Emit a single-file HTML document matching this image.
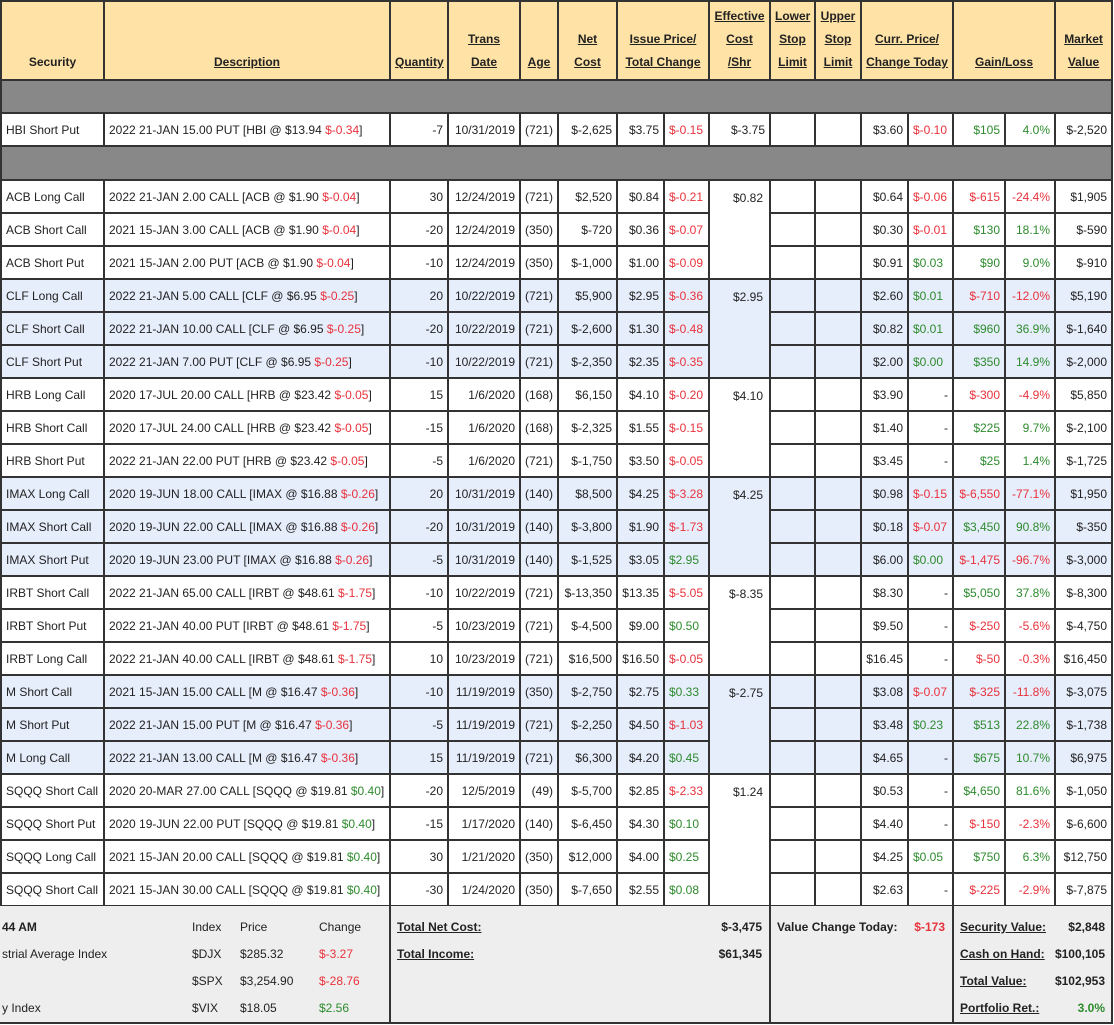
<!DOCTYPE html>
<html><head><meta charset="utf-8"><style>
body{margin:0;background:#fff;font-family:"Liberation Sans",Arial,sans-serif;font-size:12px;color:#222;}
table{position:absolute;left:0;top:0;border-collapse:collapse;table-layout:fixed;width:1113px;}
td{border:2px solid #333;padding:0 4px;white-space:nowrap;overflow:hidden;text-align:right;height:31px;}
td.l{text-align:left}
tr.h td{background:#ffe3a6;font-weight:bold;text-align:center;vertical-align:bottom;padding-bottom:5px;line-height:23px;height:72px}
tr.g td{background:#888;height:31px}
tr.bl td{background:#e6edfb}
td.e{vertical-align:top;padding-top:10px;padding-right:6px}
.r{color:#e8323c}.gr{color:#2e8b2e}
#ft{position:absolute;left:0;top:906px;width:1113px;height:116px;background:#eee;border-bottom:2px solid #333;}
#ft div{position:absolute;}
.vl{width:2px;background:#333;top:0;height:116px}
.b{font-weight:bold}
</style></head><body>
<table>
<colgroup><col style="width:103px"><col style="width:286px"><col style="width:58px"><col style="width:72px"><col style="width:38px"><col style="width:59px"><col style="width:47px"><col style="width:45px"><col style="width:61px"><col style="width:45px"><col style="width:46px"><col style="width:47px"><col style="width:45px"><col style="width:52px"><col style="width:50px"><col style="width:57px"></colgroup>
<tr class="h"><td>Security</td><td><u>Description</u></td><td><u>Quantity</u></td><td><u>Trans</u><br><u>Date</u></td><td><u>Age</u></td><td><u>Net</u><br><u>Cost</u></td><td colspan="2"><u>Issue Price/</u><br><u>Total Change</u></td><td><u>Effective</u><br><u>Cost</u><br><u>/Shr</u></td><td><u>Lower</u><br><u>Stop</u><br><u>Limit</u></td><td><u>Upper</u><br><u>Stop</u><br><u>Limit</u></td><td colspan="2"><u>Curr. Price/</u><br><u>Change Today</u></td><td colspan="2"><u>Gain/Loss</u></td><td><u>Market</u><br><u>Value</u></td></tr>
<tr class="g"><td colspan="16"></td></tr>
<tr><td class="l">HBI Short Put</td><td class="l">2022 21-JAN 15.00 PUT [HBI @ $13.94 <span class="r">$-0.34</span>]</td><td>-7</td><td>10/31/2019</td><td>(721)</td><td>$-2,625</td><td>$3.75</td><td class="r l">$-0.15</td><td>$-3.75</td><td></td><td></td><td>$3.60</td><td class="r l">$-0.10</td><td class="gr">$105</td><td class="gr">4.0%</td><td>$-2,520</td></tr>
<tr class="g"><td colspan="16" style="height:32px"></td></tr>

<tr><td class="l">ACB Long Call</td><td class="l">2022 21-JAN 2.00 CALL [ACB @ $1.90 <span class="r">$-0.04</span>]</td><td>30</td><td>12/24/2019</td><td>(721)</td><td>$2,520</td><td>$0.84</td><td class="r l">$-0.21</td><td class="e" rowspan="3">$0.82</td><td></td><td></td><td>$0.64</td><td class="r l">$-0.06</td><td class="r">$-615</td><td class="r">-24.4%</td><td>$1,905</td></tr>
<tr><td class="l">ACB Short Call</td><td class="l">2021 15-JAN 3.00 CALL [ACB @ $1.90 <span class="r">$-0.04</span>]</td><td>-20</td><td>12/24/2019</td><td>(350)</td><td>$-720</td><td>$0.36</td><td class="r l">$-0.07</td><td></td><td></td><td>$0.30</td><td class="r l">$-0.01</td><td class="gr">$130</td><td class="gr">18.1%</td><td>$-590</td></tr>
<tr><td class="l">ACB Short Put</td><td class="l">2021 15-JAN 2.00 PUT [ACB @ $1.90 <span class="r">$-0.04</span>]</td><td>-10</td><td>12/24/2019</td><td>(350)</td><td>$-1,000</td><td>$1.00</td><td class="r l">$-0.09</td><td></td><td></td><td>$0.91</td><td class="gr l">$0.03</td><td class="gr">$90</td><td class="gr">9.0%</td><td>$-910</td></tr>

<tr class="bl"><td class="l">CLF Long Call</td><td class="l">2022 21-JAN 5.00 CALL [CLF @ $6.95 <span class="r">$-0.25</span>]</td><td>20</td><td>10/22/2019</td><td>(721)</td><td>$5,900</td><td>$2.95</td><td class="r l">$-0.36</td><td class="e" rowspan="3">$2.95</td><td></td><td></td><td>$2.60</td><td class="gr l">$0.01</td><td class="r">$-710</td><td class="r">-12.0%</td><td>$5,190</td></tr>
<tr class="bl"><td class="l">CLF Short Call</td><td class="l">2022 21-JAN 10.00 CALL [CLF @ $6.95 <span class="r">$-0.25</span>]</td><td>-20</td><td>10/22/2019</td><td>(721)</td><td>$-2,600</td><td>$1.30</td><td class="r l">$-0.48</td><td></td><td></td><td>$0.82</td><td class="gr l">$0.01</td><td class="gr">$960</td><td class="gr">36.9%</td><td>$-1,640</td></tr>
<tr class="bl"><td class="l">CLF Short Put</td><td class="l">2022 21-JAN 7.00 PUT [CLF @ $6.95 <span class="r">$-0.25</span>]</td><td>-10</td><td>10/22/2019</td><td>(721)</td><td>$-2,350</td><td>$2.35</td><td class="r l">$-0.35</td><td></td><td></td><td>$2.00</td><td class="gr l">$0.00</td><td class="gr">$350</td><td class="gr">14.9%</td><td>$-2,000</td></tr>

<tr><td class="l">HRB Long Call</td><td class="l">2020 17-JUL 20.00 CALL [HRB @ $23.42 <span class="r">$-0.05</span>]</td><td>15</td><td>1/6/2020</td><td>(168)</td><td>$6,150</td><td>$4.10</td><td class="r l">$-0.20</td><td class="e" rowspan="3">$4.10</td><td></td><td></td><td>$3.90</td><td>-</td><td class="r">$-300</td><td class="r">-4.9%</td><td>$5,850</td></tr>
<tr><td class="l">HRB Short Call</td><td class="l">2020 17-JUL 24.00 CALL [HRB @ $23.42 <span class="r">$-0.05</span>]</td><td>-15</td><td>1/6/2020</td><td>(168)</td><td>$-2,325</td><td>$1.55</td><td class="r l">$-0.15</td><td></td><td></td><td>$1.40</td><td>-</td><td class="gr">$225</td><td class="gr">9.7%</td><td>$-2,100</td></tr>
<tr><td class="l">HRB Short Put</td><td class="l">2022 21-JAN 22.00 PUT [HRB @ $23.42 <span class="r">$-0.05</span>]</td><td>-5</td><td>1/6/2020</td><td>(721)</td><td>$-1,750</td><td>$3.50</td><td class="r l">$-0.05</td><td></td><td></td><td>$3.45</td><td>-</td><td class="gr">$25</td><td class="gr">1.4%</td><td>$-1,725</td></tr>

<tr class="bl"><td class="l">IMAX Long Call</td><td class="l">2020 19-JUN 18.00 CALL [IMAX @ $16.88 <span class="r">$-0.26</span>]</td><td>20</td><td>10/31/2019</td><td>(140)</td><td>$8,500</td><td>$4.25</td><td class="r l">$-3.28</td><td class="e" rowspan="3">$4.25</td><td></td><td></td><td>$0.98</td><td class="r l">$-0.15</td><td class="r">$-6,550</td><td class="r">-77.1%</td><td>$1,950</td></tr>
<tr class="bl"><td class="l">IMAX Short Call</td><td class="l">2020 19-JUN 22.00 CALL [IMAX @ $16.88 <span class="r">$-0.26</span>]</td><td>-20</td><td>10/31/2019</td><td>(140)</td><td>$-3,800</td><td>$1.90</td><td class="r l">$-1.73</td><td></td><td></td><td>$0.18</td><td class="r l">$-0.07</td><td class="gr">$3,450</td><td class="gr">90.8%</td><td>$-350</td></tr>
<tr class="bl"><td class="l">IMAX Short Put</td><td class="l">2020 19-JUN 23.00 PUT [IMAX @ $16.88 <span class="r">$-0.26</span>]</td><td>-5</td><td>10/31/2019</td><td>(140)</td><td>$-1,525</td><td>$3.05</td><td class="gr l">$2.95</td><td></td><td></td><td>$6.00</td><td class="gr l">$0.00</td><td class="r">$-1,475</td><td class="r">-96.7%</td><td>$-3,000</td></tr>

<tr><td class="l">IRBT Short Call</td><td class="l">2022 21-JAN 65.00 CALL [IRBT @ $48.61 <span class="r">$-1.75</span>]</td><td>-10</td><td>10/22/2019</td><td>(721)</td><td>$-13,350</td><td>$13.35</td><td class="r l">$-5.05</td><td class="e" rowspan="3">$-8.35</td><td></td><td></td><td>$8.30</td><td>-</td><td class="gr">$5,050</td><td class="gr">37.8%</td><td>$-8,300</td></tr>
<tr><td class="l">IRBT Short Put</td><td class="l">2022 21-JAN 40.00 PUT [IRBT @ $48.61 <span class="r">$-1.75</span>]</td><td>-5</td><td>10/23/2019</td><td>(721)</td><td>$-4,500</td><td>$9.00</td><td class="gr l">$0.50</td><td></td><td></td><td>$9.50</td><td>-</td><td class="r">$-250</td><td class="r">-5.6%</td><td>$-4,750</td></tr>
<tr><td class="l">IRBT Long Call</td><td class="l">2022 21-JAN 40.00 CALL [IRBT @ $48.61 <span class="r">$-1.75</span>]</td><td>10</td><td>10/23/2019</td><td>(721)</td><td>$16,500</td><td>$16.50</td><td class="r l">$-0.05</td><td></td><td></td><td>$16.45</td><td>-</td><td class="r">$-50</td><td class="r">-0.3%</td><td>$16,450</td></tr>

<tr class="bl"><td class="l">M Short Call</td><td class="l">2021 15-JAN 15.00 CALL [M @ $16.47 <span class="r">$-0.36</span>]</td><td>-10</td><td>11/19/2019</td><td>(350)</td><td>$-2,750</td><td>$2.75</td><td class="gr l">$0.33</td><td class="e" rowspan="3">$-2.75</td><td></td><td></td><td>$3.08</td><td class="r l">$-0.07</td><td class="r">$-325</td><td class="r">-11.8%</td><td>$-3,075</td></tr>
<tr class="bl"><td class="l">M Short Put</td><td class="l">2022 21-JAN 15.00 PUT [M @ $16.47 <span class="r">$-0.36</span>]</td><td>-5</td><td>11/19/2019</td><td>(721)</td><td>$-2,250</td><td>$4.50</td><td class="r l">$-1.03</td><td></td><td></td><td>$3.48</td><td class="gr l">$0.23</td><td class="gr">$513</td><td class="gr">22.8%</td><td>$-1,738</td></tr>
<tr class="bl"><td class="l">M Long Call</td><td class="l">2022 21-JAN 13.00 CALL [M @ $16.47 <span class="r">$-0.36</span>]</td><td>15</td><td>11/19/2019</td><td>(721)</td><td>$6,300</td><td>$4.20</td><td class="gr l">$0.45</td><td></td><td></td><td>$4.65</td><td>-</td><td class="gr">$675</td><td class="gr">10.7%</td><td>$6,975</td></tr>

<tr><td class="l">SQQQ Short Call</td><td class="l">2020 20-MAR 27.00 CALL [SQQQ @ $19.81 <span class="gr">$0.40</span>]</td><td>-20</td><td>12/5/2019</td><td>(49)</td><td>$-5,700</td><td>$2.85</td><td class="r l">$-2.33</td><td class="e" rowspan="4">$1.24</td><td></td><td></td><td>$0.53</td><td>-</td><td class="gr">$4,650</td><td class="gr">81.6%</td><td>$-1,050</td></tr>
<tr><td class="l">SQQQ Short Put</td><td class="l">2020 19-JUN 22.00 PUT [SQQQ @ $19.81 <span class="gr">$0.40</span>]</td><td>-15</td><td>1/17/2020</td><td>(140)</td><td>$-6,450</td><td>$4.30</td><td class="gr l">$0.10</td><td></td><td></td><td>$4.40</td><td>-</td><td class="r">$-150</td><td class="r">-2.3%</td><td>$-6,600</td></tr>
<tr><td class="l">SQQQ Long Call</td><td class="l">2021 15-JAN 20.00 CALL [SQQQ @ $19.81 <span class="gr">$0.40</span>]</td><td>30</td><td>1/21/2020</td><td>(350)</td><td>$12,000</td><td>$4.00</td><td class="gr l">$0.25</td><td></td><td></td><td>$4.25</td><td class="gr l">$0.05</td><td class="gr">$750</td><td class="gr">6.3%</td><td>$12,750</td></tr>
<tr><td class="l">SQQQ Short Call</td><td class="l">2021 15-JAN 30.00 CALL [SQQQ @ $19.81 <span class="gr">$0.40</span>]</td><td>-30</td><td>1/24/2020</td><td>(350)</td><td>$-7,650</td><td>$2.55</td><td class="gr l">$0.08</td><td></td><td></td><td>$2.63</td><td>-</td><td class="r">$-225</td><td class="r">-2.9%</td><td>$-7,875</td></tr>
</table>

<div id="ft">
<div class="vl" style="left:389px"></div><div class="vl" style="left:769px"></div><div class="vl" style="left:952px"></div><div class="vl" style="left:1111px"></div>
<div class="b" style="left:2px;top:14px">44 AM</div>
<div style="left:2px;top:41px">strial Average Index</div>
<div style="left:2px;top:95px">y Index</div>
<div style="left:192px;top:14px">Index</div><div style="left:240px;top:14px">Price</div><div style="left:319px;top:14px">Change</div>
<div style="left:192px;top:41px">$DJX</div><div style="left:240px;top:41px">$285.32</div><div class="r" style="left:319px;top:41px">$-3.27</div>
<div style="left:192px;top:68px">$SPX</div><div style="left:240px;top:68px">$3,254.90</div><div class="r" style="left:319px;top:68px">$-28.76</div>
<div style="left:192px;top:95px">$VIX</div><div style="left:240px;top:95px">$18.05</div><div class="gr" style="left:319px;top:95px">$2.56</div>
<div class="b" style="left:397px;top:14px"><u>Total Net Cost: </u></div><div class="b" style="right:351px;top:14px">$-3,475</div>
<div class="b" style="left:397px;top:41px"><u>Total Income: </u></div><div class="b" style="right:351px;top:41px">$61,345</div>
<div class="b" style="left:777px;top:14px">Value Change Today:</div><div class="b r" style="right:168px;top:14px">$-173</div>
<div class="b" style="left:960px;top:14px"><u>Security Value: </u></div><div class="b" style="right:8px;top:14px">$2,848</div>
<div class="b" style="left:960px;top:41px"><u>Cash on Hand: </u></div><div class="b" style="right:8px;top:41px">$100,105</div>
<div class="b" style="left:960px;top:68px"><u>Total Value: </u></div><div class="b" style="right:8px;top:68px">$102,953</div>
<div class="b" style="left:960px;top:95px"><u>Portfolio Ret.: </u></div><div class="b gr" style="right:8px;top:95px">3.0%</div>
</div>
</body></html>
